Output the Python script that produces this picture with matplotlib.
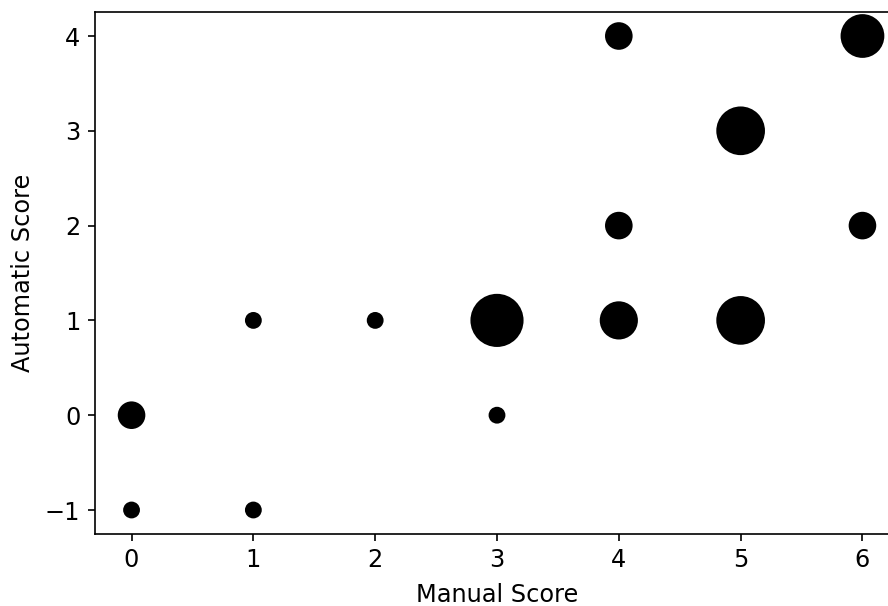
#!/usr/bin/env python

import numpy as np
import matplotlib
matplotlib.use("Agg")
import matplotlib.pyplot as plt

# (manual, automatic) score pairs and how many times each occurred
manual = [0, 0, 1, 1, 2, 3, 3, 4, 4, 4, 5, 5, 6, 6]
automatic = [-1, 0, 1, -1, 1, 1, 0, 4, 2, 1, 3, 1, 4, 2]
counts = [1, 3, 1, 1, 1, 12, 1, 3, 3, 6, 10, 10, 8, 3]

plt.rcParams["font.size"] = 11.5

dpi = 150
fig = plt.figure(figsize = (888 / dpi, 606 / dpi), dpi = dpi)
# right spine falls just outside the saved image, as in the original
ax = fig.add_axes([95 / 888, (606 - 533.7) / 606, 804 / 888, 521.4 / 606])

ax.scatter(manual, automatic, s = np.array(counts) * 50, c = "black")
ax.set_xlim(-0.3, 6.3)
ax.set_ylim(-1.25, 4.25)
ax.set_xlabel("Manual Score", labelpad = 5)
ax.set_ylabel("Automatic Score", labelpad = 5)

fig.savefig("out.png", dpi = dpi)
